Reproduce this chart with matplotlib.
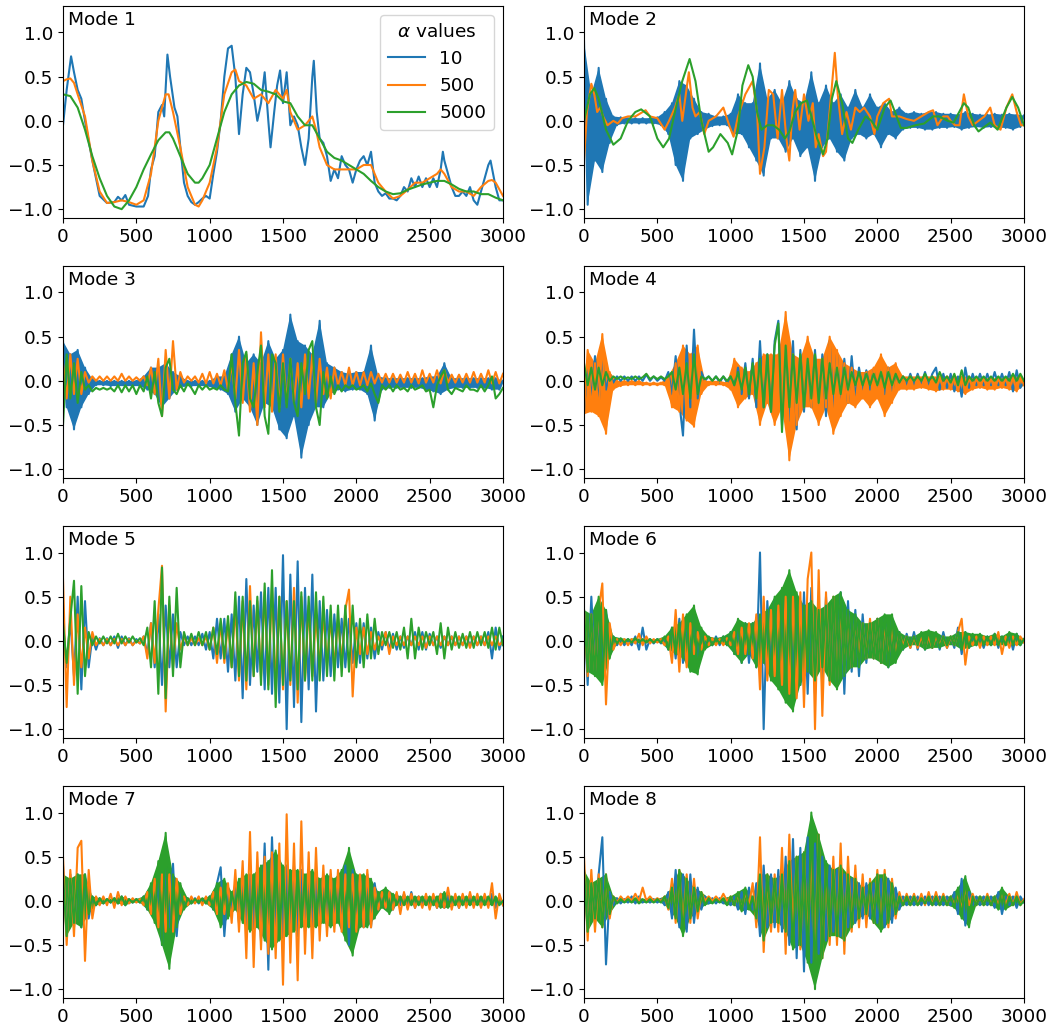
import numpy as np
import matplotlib
matplotlib.use("Agg")
import matplotlib.pyplot as plt

plt.rcParams["font.size"] = 13.3

ALPHAS = ["10", "500", "5000"]
COLORS = ["C0", "C1", "C2"]
XMAX = 3000
STEP = 25  # sample spacing of the dense peak lists below

# ---- Mode 1: (sample, value) pairs ----
M1_A10 = [(0, -0.05), (25, 0.35), (55, 0.73), (75, 0.55), (100, 0.35), (125, 0.25), (150, 0.0),
          (200, -0.45), (250, -0.85), (300, -0.93), (350, -0.92), (375, -0.86), (400, -0.9),
          (425, -0.84), (450, -0.95), (500, -0.97), (550, -0.97), (580, -0.85), (600, -0.55),
          (625, -0.4), (650, 0.1), (675, 0.18), (690, 0.05), (712, 0.75), (730, 0.5), (760, 0.15),
          (780, 0.05), (800, -0.3), (825, -0.7), (850, -0.85), (875, -0.92), (900, -0.95),
          (925, -0.92), (950, -0.88), (975, -0.85), (1000, -0.88), (1025, -0.6), (1050, -0.35),
          (1075, 0.0), (1100, 0.5), (1125, 0.82), (1150, 0.85), (1175, 0.5), (1200, -0.15),
          (1225, 0.3), (1250, 0.6), (1275, 0.55), (1300, 0.3), (1325, 0.0), (1350, 0.2),
          (1375, 0.55), (1400, 0.0), (1415, -0.3), (1440, 0.1), (1460, 0.4), (1480, 0.57),
          (1500, 0.2), (1525, 0.55), (1550, -0.05), (1575, 0.05), (1600, -0.05), (1625, -0.3),
          (1650, -0.5), (1675, -0.2), (1700, 0.5), (1710, 0.68), (1730, 0.1), (1750, -0.2),
          (1775, -0.25), (1800, -0.4), (1825, -0.68), (1850, -0.55), (1875, -0.65), (1900, -0.4),
          (1925, -0.5), (1950, -0.55), (1975, -0.7), (2000, -0.55), (2025, -0.45), (2050, -0.4),
          (2075, -0.5), (2100, -0.35), (2125, -0.7), (2150, -0.8), (2175, -0.85), (2200, -0.82),
          (2225, -0.88), (2250, -0.88), (2275, -0.9), (2300, -0.85), (2325, -0.75), (2350, -0.8),
          (2375, -0.65), (2400, -0.75), (2425, -0.63), (2450, -0.75), (2475, -0.65), (2500, -0.75),
          (2525, -0.65), (2550, -0.75), (2575, -0.55), (2590, -0.35), (2600, -0.45), (2625, -0.6),
          (2650, -0.75), (2675, -0.85), (2700, -0.85), (2725, -0.8), (2750, -0.85), (2775, -0.75),
          (2800, -0.9), (2825, -0.95), (2850, -0.8), (2875, -0.65), (2900, -0.5), (2915, -0.45),
          (2950, -0.75), (2975, -0.9), (3000, -0.9)]
M1_A500 = [(0, 0.45), (25, 0.47), (50, 0.48), (75, 0.43), (100, 0.3), (150, 0.05), (200, -0.45),
           (250, -0.8), (300, -0.93), (350, -0.92), (400, -0.9), (450, -0.92), (500, -0.95),
           (550, -0.9), (600, -0.6), (650, 0.0), (700, 0.3), (720, 0.3), (750, 0.1), (800, -0.3),
           (850, -0.75), (900, -0.95), (925, -0.97), (950, -0.9), (1000, -0.7), (1050, -0.3),
           (1100, 0.3), (1150, 0.55), (1175, 0.58), (1200, 0.45), (1250, 0.4), (1300, 0.25),
           (1350, 0.3), (1400, 0.2), (1450, 0.35), (1500, 0.25), (1525, 0.35), (1550, 0.1),
           (1600, -0.1), (1650, -0.05), (1700, 0.05), (1725, -0.1), (1750, -0.3), (1800, -0.5),
           (1850, -0.55), (1900, -0.55), (1950, -0.55), (2000, -0.55), (2050, -0.5), (2100, -0.5),
           (2150, -0.7), (2200, -0.8), (2250, -0.88), (2300, -0.85), (2350, -0.78), (2400, -0.7),
           (2450, -0.7), (2500, -0.65), (2550, -0.6), (2575, -0.55), (2600, -0.6), (2650, -0.75),
           (2700, -0.8), (2750, -0.8), (2800, -0.85), (2850, -0.75), (2900, -0.68), (2925, -0.67),
           (2950, -0.7), (3000, -0.85)]
M1_A5000 = [(0, 0.3), (50, 0.28), (100, 0.15), (150, -0.1), (200, -0.4), (250, -0.65), (300, -0.85),
            (350, -0.97), (400, -1.0), (450, -0.9), (500, -0.75), (550, -0.55), (600, -0.38),
            (650, -0.22), (700, -0.13), (725, -0.13), (750, -0.2), (800, -0.4), (850, -0.6),
            (900, -0.7), (925, -0.7), (950, -0.65), (1000, -0.5), (1050, -0.2), (1100, 0.1),
            (1150, 0.3), (1200, 0.4), (1250, 0.44), (1300, 0.42), (1350, 0.35), (1400, 0.33),
            (1450, 0.3), (1500, 0.22), (1550, 0.2), (1600, 0.05), (1650, -0.05), (1700, -0.05),
            (1750, -0.2), (1800, -0.35), (1850, -0.42), (1900, -0.45), (1950, -0.5), (2000, -0.55),
            (2050, -0.6), (2100, -0.68), (2150, -0.75), (2200, -0.8), (2250, -0.83), (2300, -0.82),
            (2350, -0.78), (2400, -0.75), (2450, -0.72), (2500, -0.7), (2550, -0.68), (2600, -0.68),
            (2650, -0.72), (2700, -0.77), (2750, -0.8), (2800, -0.8), (2850, -0.83), (2900, -0.83),
            (2950, -0.87), (3000, -0.9)]

# ---- Mode 2 ----
M2_A10 = [0.9, -0.95, 0.3, -0.45, 0.6, -0.58, 0.25, -0.25, 0.05, -0.05,
          0.04, -0.03, 0.03, -0.03, 0.03, -0.03, 0.03, -0.03, 0.03, -0.03,
          0.04, -0.05, 0.1, -0.15, 0.2, -0.5, 0.45, -0.68, 0.4, -0.2,
          0.25, -0.15, 0.1, -0.1, 0.08, -0.06, 0.05, -0.05, 0.05, -0.05,
          0.08, -0.15, 0.3, -0.15, 0.2, -0.3, 0.2, -0.45, 0.65, -0.62,
          0.25, -0.2, 0.35, -0.2, 0.2, -0.35, 0.45, -0.2, 0.25, -0.4,
          0.2, -0.3, 0.55, -0.68, 0.2, -0.3, 0.4, -0.2, 0.2, -0.35,
          0.3, -0.45, 0.15, -0.2, 0.35, -0.15, 0.15, -0.2, 0.3, -0.15,
          0.15, -0.3, 0.2, -0.15, 0.1, -0.2, 0.15, -0.1, 0.08, -0.08,
          0.1, -0.08, 0.08, -0.1, 0.1, -0.1, 0.1, -0.08, 0.08, -0.08,
          0.08, -0.07, 0.07, -0.1, 0.1, -0.08, 0.08, -0.07, 0.07, -0.08,
          0.07, -0.07, 0.08, -0.08, 0.07, -0.08, 0.08, -0.1, 0.07, -0.07,
          0.06]
M2_A500 = [(0, -0.45), (20, 0.1), (50, 0.42), (70, 0.3), (90, 0.1), (110, 0.15), (130, 0.05),
           (160, -0.05), (200, 0.0), (230, -0.03), (260, 0.03), (300, 0.05), (350, 0.05),
           (400, 0.1), (420, 0.12), (450, 0.05), (500, 0.03), (550, -0.1), (580, 0.0), (620, 0.15),
           (650, 0.3), (670, 0.0), (690, 0.25), (715, 0.55), (740, 0.15), (760, 0.05), (790, 0.1),
           (820, -0.15), (850, 0.0), (900, 0.05), (950, 0.15), (990, -0.05), (1020, -0.18),
           (1050, 0.05), (1100, 0.3), (1150, 0.45), (1180, 0.1), (1200, -0.6), (1230, -0.3),
           (1260, 0.35), (1290, 0.3), (1320, -0.2), (1350, 0.35), (1380, -0.2), (1400, -0.45),
           (1420, 0.1), (1440, 0.35), (1470, -0.1), (1500, 0.3), (1530, 0.0), (1560, 0.2),
           (1580, -0.3), (1600, -0.15), (1630, -0.4), (1650, -0.35), (1680, 0.2), (1710, 0.77),
           (1730, 0.3), (1760, -0.15), (1790, 0.1), (1820, -0.1), (1850, 0.15), (1880, 0.1),
           (1910, 0.15), (1950, 0.05), (1980, -0.15), (2000, 0.05), (2040, 0.2), (2080, 0.25),
           (2100, 0.05), (2150, 0.05), (2200, 0.02), (2250, 0.0), (2300, 0.05), (2350, 0.1),
           (2380, 0.12), (2410, -0.05), (2450, 0.05), (2480, 0.05), (2500, 0.0), (2530, -0.05),
           (2560, -0.05), (2590, 0.3), (2620, 0.05), (2650, -0.05), (2690, 0.0), (2730, 0.05),
           (2770, 0.15), (2800, -0.05), (2840, -0.1), (2880, 0.15), (2920, 0.3), (2950, 0.1),
           (2980, -0.05), (3000, -0.05)]
M2_A5000 = [(0, 0.0), (40, 0.3), (70, 0.37), (100, 0.25), (150, -0.1), (200, -0.27), (250, -0.2),
            (300, 0.0), (350, 0.1), (390, 0.13), (450, 0.05), (500, -0.2), (540, -0.3), (580, -0.2),
            (620, 0.1), (670, 0.45), (720, 0.7), (760, 0.45), (800, 0.0), (850, -0.35), (880, -0.3),
            (930, -0.15), (980, -0.25), (1010, -0.38), (1050, -0.1), (1080, 0.4), (1120, 0.63),
            (1150, 0.5), (1180, 0.1), (1210, -0.1), (1250, -0.05), (1290, -0.05), (1330, -0.1),
            (1370, -0.2), (1400, -0.12), (1440, 0.1), (1480, 0.2), (1520, 0.23), (1550, 0.05),
            (1590, -0.2), (1630, -0.38), (1660, -0.2), (1690, 0.25), (1720, 0.45), (1760, 0.2),
            (1800, -0.2), (1830, -0.25), (1870, -0.1), (1920, 0.05), (1960, 0.0), (2000, -0.1),
            (2050, 0.15), (2090, 0.23), (2120, 0.1), (2160, -0.08), (2200, -0.08), (2260, -0.05),
            (2320, -0.03), (2380, 0.05), (2420, 0.05), (2480, 0.0), (2520, -0.02), (2590, 0.2),
            (2620, 0.15), (2660, -0.05), (2690, -0.12), (2720, -0.08), (2770, -0.02), (2820, -0.1),
            (2880, 0.15), (2920, 0.27), (2960, 0.15), (3000, -0.05)]

# ---- Mode 3 ----
M3_A10 = [0.45, -0.3, 0.3, -0.55, 0.35, -0.3, 0.15, -0.15, 0.02, -0.05,
          0.0, -0.05, 0.0, -0.06, 0.0, -0.06, 0.0, -0.06, 0.0, -0.06,
          0.0, -0.06, 0.05, -0.1, 0.15, -0.15, 0.15, -0.3, 0.2, -0.2,
          0.1, -0.1, 0.05, -0.06, 0.0, -0.06, 0.0, -0.06, 0.0, -0.06,
          0.0, -0.08, 0.05, -0.1, 0.05, -0.15, 0.3, -0.35, 0.5, -0.2,
          0.2, -0.3, 0.3, -0.5, 0.2, -0.25, 0.45, -0.3, 0.25, -0.55,
          0.35, -0.65, 0.75, -0.4, 0.45, -0.87, 0.4, -0.5, 0.3, -0.3,
          0.68, -0.3, 0.2, -0.15, 0.15, -0.1, 0.1, -0.12, 0.08, -0.1,
          0.1, -0.1, 0.1, -0.15, 0.4, -0.45, 0.05, -0.1, 0.03, -0.08,
          0.03, -0.08, 0.03, -0.08, 0.03, -0.08, 0.03, -0.08, 0.03, -0.1,
          0.05, -0.12, 0.05, -0.15, 0.2, -0.1, 0.03, -0.08, 0.03, -0.08,
          0.03, -0.08, 0.03, -0.08, 0.03, -0.08, 0.03, -0.1, 0.03, -0.1,
          0.0]
M3_A500 = [0.2, -0.2, 0.3, -0.15, 0.25, -0.15, 0.1, -0.02, 0.05, 0.0,
           0.05, 0.0, 0.05, 0.0, 0.05, 0.0, 0.08, 0.0, 0.05, 0.0,
           0.04, 0.0, 0.05, -0.05, 0.15, -0.15, 0.25, -0.4, 0.35, -0.2,
           0.45, -0.1, 0.1, -0.02, 0.05, 0.0, 0.05, -0.02, 0.08, -0.03,
           0.1, -0.03, 0.08, -0.05, 0.12, -0.1, 0.2, -0.2, 0.35, -0.25,
           0.3, -0.35, 0.2, -0.5, 0.55, -0.3, 0.3, -0.35, 0.3, -0.3,
           0.3, -0.25, 0.25, -0.25, 0.2, -0.3, 0.3, -0.2, 0.3, -0.25,
           0.25, -0.15, 0.15, -0.2, 0.15, -0.05, 0.1, -0.05, 0.15, -0.05,
           0.1, -0.05, 0.1, -0.05, 0.1, -0.03, 0.08, -0.02, 0.08, -0.02,
           0.08, -0.02, 0.07, -0.02, 0.1, -0.02, 0.08, -0.03, 0.12, -0.02,
           0.08, -0.02, 0.12, -0.03, 0.12, -0.02, 0.07, -0.02, 0.07, -0.02,
           0.08, -0.02, 0.1, -0.02, 0.08, -0.02, 0.12, -0.03, 0.1, -0.03,
           0.08]
M3_A5000 = [-0.5, 0.3, -0.2, 0.2, -0.25, 0.1, -0.1, -0.05, -0.12, -0.08,
            -0.1, -0.08, -0.1, -0.08, -0.12, -0.05, -0.13, -0.05, -0.12, -0.05,
            -0.15, -0.05, -0.12, 0.05, -0.2, 0.1, -0.25, -0.4, 0.15, 0.25,
            -0.1, -0.15, -0.05, -0.12, -0.03, -0.08, -0.15, -0.05, -0.1, -0.05,
            -0.1, -0.08, -0.1, -0.05, -0.1, -0.12, 0.3, -0.25, -0.62, 0.2,
            0.33, -0.2, -0.3, 0.1, 0.4, -0.4, -0.6, 0.3, 0.2, -0.35,
            0.2, -0.3, 0.25, -0.25, -0.4, 0.2, -0.15, 0.35, 0.45, -0.3,
            -0.5, 0.1, -0.2, 0.05, -0.15, -0.05, -0.12, -0.05, -0.08, -0.05,
            -0.1, -0.08, -0.05, -0.12, -0.03, -0.15, -0.25, -0.05, -0.1, -0.05,
            -0.12, -0.05, -0.1, -0.08, -0.12, -0.05, -0.1, -0.08, -0.05, -0.12,
            -0.1, -0.3, -0.05, 0.05, 0.12, -0.1, -0.15, -0.08, -0.1, -0.12,
            -0.05, -0.1, -0.1, -0.12, -0.05, -0.12, -0.05, 0.05, -0.2, -0.15,
            -0.08]

# ---- Mode 4 ----
M4_A10 = [-0.35, 0.2, -0.2, 0.28, -0.25, 0.25, -0.1, 0.08, -0.02, 0.05,
          0.0, 0.05, 0.0, 0.05, 0.0, 0.05, 0.0, 0.07, 0.0, 0.05,
          0.0, 0.04, 0.0, 0.1, -0.15, 0.28, -0.25, -0.62, 0.4, -0.3,
          0.58, -0.2, 0.1, 0.0, 0.05, 0.0, 0.05, -0.02, 0.05, -0.02,
          0.05, -0.05, 0.15, -0.15, 0.2, -0.2, 0.25, -0.3, 0.45, -0.3,
          0.3, -0.35, 0.45, 0.68, -0.5, 0.5, -0.45, 0.45, -0.55, 0.35,
          -0.35, 0.3, -0.3, 0.35, -0.3, 0.3, -0.4, 0.45, -0.3, 0.3,
          -0.25, 0.25, -0.25, 0.28, -0.2, 0.15, -0.1, 0.12, -0.1, 0.12,
          -0.1, 0.15, -0.15, 0.15, -0.15, 0.1, -0.05, 0.05, -0.05, 0.08,
          -0.05, 0.08, -0.05, 0.1, -0.05, 0.08, 0.15, -0.1, 0.08, -0.08,
          0.08, -0.12, 0.05, -0.18, 0.15, -0.08, 0.08, -0.05, 0.08, -0.05,
          0.08, -0.05, 0.1, -0.05, 0.08, -0.05, 0.1, -0.12, 0.12, -0.08,
          0.0]
M4_A500 = [-0.38, 0.35, -0.35, 0.2, -0.4, 0.53, -0.6, 0.1, -0.1, 0.0,
           -0.06, 0.0, -0.05, 0.0, -0.05, 0.0, -0.05, -0.02, -0.05, -0.02,
           -0.05, -0.02, -0.05, 0.05, -0.3, 0.2, -0.35, 0.4, -0.45, 0.3,
           -0.52, 0.4, -0.15, 0.0, -0.05, 0.0, -0.05, 0.0, -0.05, -0.02,
           -0.1, 0.25, -0.3, 0.15, -0.2, 0.1, -0.15, 0.2, -0.5, 0.3,
           -0.25, 0.3, -0.5, 0.3, -0.3, 0.78, -0.9, 0.3, -0.5, 0.25,
           -0.3, 0.5, -0.3, 0.25, -0.5, 0.25, -0.3, 0.5, -0.6, 0.35,
           -0.4, 0.2, -0.25, 0.15, -0.3, 0.1, -0.2, 0.1, -0.3, 0.15,
           -0.2, 0.3, -0.4, 0.15, -0.25, 0.2, -0.1, 0.05, -0.1, 0.05,
           -0.1, 0.05, -0.08, 0.05, -0.1, 0.05, -0.12, 0.05, -0.1, 0.05,
           -0.1, 0.05, -0.12, 0.05, -0.15, 0.05, -0.1, 0.03, -0.08, 0.03,
           -0.1, 0.03, -0.1, 0.03, -0.08, 0.03, -0.1, 0.05, -0.12, 0.05,
           -0.05]
M4_A5000 = [0.2, -0.05, 0.15, -0.1, 0.15, -0.05, 0.1, 0.0, 0.05, 0.02,
            0.05, 0.02, 0.04, 0.02, 0.05, 0.02, 0.04, 0.08, 0.02, 0.05,
            0.02, 0.05, 0.02, 0.05, 0.1, -0.1, 0.15, -0.15, 0.2, -0.2,
            0.3, -0.15, 0.05, 0.02, 0.05, 0.0, 0.05, 0.0, 0.05, 0.0,
            0.05, -0.05, 0.1, -0.1, 0.15, -0.15, 0.2, -0.2, 0.25, -0.3,
            0.3, -0.35, 0.4, 0.65, -0.58, 0.4, -0.3, 0.3, -0.25, 0.3,
            -0.3, 0.25, -0.2, 0.3, -0.25, 0.25, -0.2, 0.2, -0.15, 0.15,
            -0.15, 0.15, -0.1, 0.1, -0.05, 0.1, -0.05, 0.08, -0.05, 0.08,
            -0.05, 0.1, -0.08, 0.1, -0.05, 0.08, -0.02, 0.05, 0.0, 0.05,
            0.0, 0.05, 0.0, 0.08, 0.0, 0.05, -0.02, 0.1, 0.0, 0.05,
            -0.02, 0.08, -0.05, 0.12, -0.05, 0.05, 0.0, 0.05, 0.0, 0.05,
            0.0, 0.05, 0.0, 0.05, 0.0, 0.05, 0.0, 0.08, 0.0, 0.08,
            0.0]

# ---- Mode 5 ----
M5_A10 = [0.2, -0.3, 0.25, -0.4, 0.5, -0.55, 0.45, -0.3, 0.05, -0.1,
          0.03, -0.05, 0.03, -0.05, 0.05, -0.08, 0.05, -0.05, 0.03, -0.05,
          0.02, -0.03, 0.05, -0.15, 0.2, -0.3, 0.3, -0.5, 0.4, -0.3,
          0.3, -0.3, 0.1, -0.05, 0.05, -0.05, 0.05, -0.05, 0.08, -0.1,
          0.1, -0.2, 0.25, -0.2, 0.25, -0.35, 0.3, -0.45, 0.5, -0.65,
          0.7, -0.5, 0.4, -0.35, 0.55, -0.55, 0.6, -0.6, 0.6, -0.7,
          0.97, -1.0, 0.75, -0.75, 0.9, -0.92, 0.6, -0.55, 0.75, -0.8,
          0.45, -0.45, 0.35, -0.4, 0.3, -0.3, 0.25, -0.3, 0.25, -0.25,
          0.2, -0.25, 0.2, -0.2, 0.15, -0.2, 0.1, -0.1, 0.1, -0.1,
          0.08, -0.1, 0.05, -0.08, 0.05, -0.05, 0.1, -0.1, 0.1, -0.1,
          0.08, -0.05, 0.05, -0.08, 0.05, -0.05, 0.05, -0.05, 0.05, -0.05,
          0.05, -0.05, 0.05, -0.05, 0.05, -0.05, 0.1, -0.2, 0.15, -0.1,
          0.05]
M5_A500 = [0.7, -0.75, 0.5, -0.5, 0.3, -0.3, 0.15, -0.2, 0.1, -0.05,
           0.02, -0.05, 0.02, -0.05, 0.02, -0.05, 0.02, -0.05, 0.02, -0.05,
           0.0, -0.03, 0.05, -0.2, 0.2, -0.25, 0.35, 0.85, -0.8, 0.4,
           -0.3, 0.2, -0.1, 0.05, -0.05, 0.03, -0.05, 0.03, -0.05, 0.05,
           -0.1, 0.15, -0.25, 0.2, -0.25, 0.2, -0.3, 0.4, -0.45, 0.45,
           -0.55, 0.62, -0.4, 0.45, -0.4, 0.55, -0.5, 0.6, -0.55, 0.5,
           -0.55, 0.45, -0.5, 0.6, -0.7, 0.5, -0.45, 0.4, -0.4, 0.3,
           -0.3, 0.3, -0.25, 0.25, -0.3, 0.25, -0.25, 0.35, 0.58, -0.63,
           0.15, -0.15, 0.15, -0.15, 0.1, -0.1, 0.05, -0.05, 0.1, -0.15,
           0.05, -0.05, 0.05, -0.05, 0.05, -0.05, 0.05, -0.05, 0.05, -0.08,
           0.05, -0.05, 0.05, -0.05, 0.05, -0.05, 0.05, -0.05, 0.05, -0.05,
           0.05, -0.08, 0.05, -0.05, 0.05, -0.05, 0.05, -0.05, 0.05, -0.05,
           0.0]
M5_A5000 = [0.2, -0.25, 0.25, 0.68, -0.6, 0.62, -0.4, 0.1, -0.05, 0.05,
            -0.03, 0.05, -0.03, 0.05, -0.03, 0.08, -0.03, 0.05, -0.02, 0.05,
            -0.02, 0.03, -0.05, 0.15, -0.3, 0.45, -0.6, 0.83, -0.65, 0.5,
            -0.4, 0.6, -0.3, 0.1, -0.05, 0.08, -0.05, 0.1, -0.05, 0.1,
            -0.1, 0.15, -0.15, 0.25, -0.2, 0.28, -0.3, 0.55, -0.4, 0.5,
            -0.45, 0.45, -0.4, 0.5, -0.5, 0.65, -0.55, 0.8, -0.75, 0.5,
            -0.5, 0.45, -0.45, 0.45, -0.55, 0.55, -0.45, 0.5, -0.45, 0.55,
            -0.45, 0.5, -0.4, 0.4, -0.45, 0.4, -0.4, 0.4, -0.35, 0.4,
            -0.3, 0.25, -0.3, 0.3, -0.2, 0.25, -0.15, 0.1, -0.05, 0.1,
            -0.08, 0.1, -0.1, 0.15, -0.2, 0.25, -0.2, 0.15, -0.1, 0.1,
            -0.05, 0.1, -0.15, 0.2, -0.2, 0.15, -0.1, 0.1, -0.08, 0.08,
            -0.08, 0.1, -0.08, 0.1, -0.05, 0.1, -0.08, 0.15, -0.1, 0.15,
            -0.05]

# ---- Mode 6 ----
M6_A10 = [0.35, -0.5, 0.5, -0.35, 0.3, -0.35, 0.35, -0.15, 0.05, -0.05,
          0.02, -0.05, 0.02, -0.05, 0.05, -0.1, 0.15, -0.1, 0.02, -0.03,
          0.02, -0.03, 0.02, -0.1, 0.15, -0.2, 0.25, -0.25, 0.2, -0.2,
          0.3, -0.25, 0.1, -0.05, 0.03, -0.05, 0.05, -0.05, 0.05, -0.05,
          0.1, -0.15, 0.15, -0.25, 0.2, -0.25, 0.2, -0.3, 1.0, -1.0,
          0.45, -0.35, 0.45, -0.4, 0.5, -0.55, 0.6, -0.5, 0.45, -0.5,
          0.55, -0.6, 0.6, -0.6, 0.5, -0.55, 0.5, -0.45, 0.45, -0.5,
          0.55, -0.6, 0.45, -0.35, 0.35, -0.4, 0.3, -0.25, 0.2, -0.2,
          0.25, -0.25, 0.25, -0.3, 0.25, -0.2, 0.1, -0.1, 0.08, -0.08,
          0.1, -0.1, 0.08, -0.1, 0.08, -0.08, 0.08, -0.1, 0.1, -0.08,
          0.05, -0.08, 0.15, -0.15, 0.1, -0.08, 0.05, -0.05, 0.05, -0.08,
          0.05, -0.05, 0.08, -0.08, 0.05, -0.05, 0.08, -0.1, 0.08, -0.05,
          0.02]
M6_A500 = [0.35, -0.4, 0.3, -0.35, 0.35, 0.65, -0.72, 0.2, -0.1, 0.02,
           -0.05, 0.02, -0.05, 0.02, -0.03, 0.08, -0.05, 0.05, -0.03, 0.02,
           -0.02, 0.02, -0.05, 0.05, -0.25, 0.35, -0.35, 0.3, -0.3, 0.2,
           -0.15, 0.1, -0.1, 0.05, -0.05, 0.03, -0.05, 0.02, -0.05, 0.03,
           -0.05, 0.1, -0.15, 0.15, -0.15, 0.2, -0.2, 0.3, -0.55, 0.5,
           -0.45, 0.35, -0.4, 0.4, -0.5, 0.5, -0.6, 0.5, -0.65, 0.55,
           -0.75, 0.7, 1.0, -1.0, 0.8, -0.85, 0.55, -0.5, 0.5, -0.45,
           0.4, -0.35, 0.3, -0.3, 0.25, -0.2, 0.2, -0.2, 0.25, -0.2,
           0.25, -0.25, 0.2, -0.2, 0.15, -0.15, 0.08, -0.05, 0.05, -0.08,
           0.05, -0.08, 0.05, -0.08, 0.05, -0.08, 0.05, -0.05, 0.05, -0.08,
           0.05, -0.05, 0.1, 0.25, -0.27, 0.05, -0.05, 0.05, -0.08, 0.05,
           -0.05, 0.05, -0.05, 0.1, -0.15, 0.05, -0.08, 0.05, -0.05, 0.05,
           -0.02]
M6_A5000 = [0.35, -0.35, 0.3, -0.4, 0.5, -0.5, 0.35, -0.2, 0.05, -0.03,
            0.03, -0.02, 0.02, -0.02, 0.03, -0.02, 0.02, -0.02, 0.02, -0.02,
            0.02, -0.02, 0.05, -0.1, 0.15, -0.15, 0.2, -0.2, 0.3, -0.35,
            0.4, -0.38, 0.15, -0.1, 0.05, -0.05, 0.03, -0.03, 0.05, -0.05,
            0.1, -0.15, 0.25, -0.25, 0.2, -0.15, 0.2, -0.3, 0.3, -0.25,
            0.35, -0.45, 0.5, -0.55, 0.6, -0.7, 0.8, -0.8, 0.55, -0.5,
            0.4, -0.35, 0.45, -0.45, 0.35, -0.3, 0.4, -0.45, 0.5, -0.55,
            0.55, -0.4, 0.35, -0.3, 0.3, -0.3, 0.2, -0.2, 0.2, -0.2,
            0.25, -0.25, 0.3, -0.3, 0.3, -0.25, 0.1, -0.1, 0.05, -0.05,
            0.05, -0.05, 0.1, -0.1, 0.12, -0.08, 0.1, -0.08, 0.05, -0.05,
            0.05, -0.05, 0.1, -0.1, 0.1, -0.08, 0.08, -0.05, 0.08, -0.05,
            0.05, -0.05, 0.08, -0.05, 0.05, -0.05, 0.1, -0.05, 0.08, -0.05,
            0.02]

# ---- Mode 7 ----
M7_A10 = [0.4, -0.4, 0.3, -0.3, 0.3, -0.3, 0.3, -0.2, 0.05, -0.05,
          0.03, -0.03, 0.02, -0.02, 0.03, -0.03, 0.05, -0.05, 0.02, -0.02,
          0.02, -0.02, 0.05, -0.1, 0.15, -0.2, 0.25, -0.5, 0.45, -0.3,
          0.42, -0.4, 0.15, -0.08, 0.03, -0.03, 0.03, -0.03, 0.02, -0.03,
          0.05, -0.1, 0.2, 0.38, -0.4, 0.15, -0.1, 0.2, -0.25, 0.3,
          -0.3, 0.3, -0.3, 0.35, -0.45, 0.65, -0.78, 0.72, -0.45, 0.45,
          -0.4, 0.4, -0.45, 0.4, -0.4, 0.35, -0.35, 0.3, -0.3, 0.25,
          -0.25, 0.3, -0.3, 0.3, -0.25, 0.25, -0.3, 0.4, -0.5, 0.35,
          -0.3, 0.25, -0.3, 0.3, -0.3, 0.2, -0.1, 0.08, -0.08, 0.1,
          -0.1, 0.08, -0.05, 0.08, -0.08, 0.1, -0.08, 0.05, -0.05, 0.05,
          -0.08, 0.05, -0.08, 0.08, -0.08, 0.05, -0.05, 0.05, -0.08, 0.05,
          -0.05, 0.05, -0.05, 0.05, -0.05, 0.05, -0.05, 0.08, -0.08, 0.05,
          -0.05]
M7_A500 = [0.5, -0.5, 0.35, -0.4, 0.6, 0.68, -0.68, 0.35, -0.2, 0.05,
           -0.05, 0.05, -0.05, 0.08, -0.08, 0.1, -0.05, 0.05, -0.03, 0.03,
           -0.02, 0.02, -0.05, 0.1, -0.15, 0.25, -0.3, 0.3, -0.35, 0.3,
           -0.35, 0.25, -0.15, 0.05, -0.05, 0.05, -0.03, 0.05, -0.05, 0.05,
           -0.05, 0.1, -0.15, 0.15, -0.15, 0.2, -0.25, 0.35, -0.35, 0.45,
           -0.65, 0.78, -0.75, 0.55, -0.55, 0.5, -0.6, 0.55, -0.65, 0.65,
           -0.95, 0.98, -0.7, 0.65, -0.9, 0.9, -0.6, 0.55, -0.65, 0.6,
           -0.45, 0.4, -0.4, 0.35, -0.35, 0.35, -0.35, 0.3, -0.3, 0.3,
           -0.35, 0.3, -0.3, 0.35, -0.3, 0.15, -0.1, 0.1, -0.08, 0.1,
           -0.1, 0.1, -0.15, 0.1, -0.1, 0.08, -0.08, 0.05, -0.08, 0.08,
           -0.1, 0.08, -0.08, 0.08, -0.08, 0.15, -0.1, 0.08, -0.08, 0.08,
           -0.08, 0.1, -0.08, 0.08, -0.08, 0.08, -0.08, 0.2, -0.2, 0.08,
           -0.05]
M7_A5000 = [0.3, -0.4, 0.25, -0.25, 0.3, -0.3, 0.3, -0.15, 0.05, -0.05,
            0.03, -0.03, 0.02, -0.02, 0.03, -0.03, 0.05, -0.05, 0.02, -0.02,
            0.02, -0.02, 0.05, -0.1, 0.2, -0.25, 0.45, -0.5, 0.77, -0.77,
            0.3, -0.3, 0.2, -0.1, 0.03, -0.03, 0.02, -0.02, 0.03, -0.03,
            0.05, -0.1, 0.2, -0.3, 0.25, -0.2, 0.1, -0.1, 0.25, -0.25,
            0.3, -0.35, 0.3, -0.3, 0.4, -0.45, 0.45, -0.55, 0.57, -0.45,
            0.4, -0.4, 0.35, -0.35, 0.35, -0.3, 0.3, -0.3, 0.35, -0.3,
            0.25, -0.25, 0.3, -0.3, 0.25, -0.25, 0.35, -0.45, 0.6, -0.62,
            0.3, -0.3, 0.3, -0.3, 0.25, -0.2, 0.1, -0.08, 0.15, -0.15,
            0.08, -0.05, 0.05, -0.05, 0.05, -0.05, 0.05, -0.05, 0.05, -0.05,
            0.05, -0.05, 0.05, -0.08, 0.1, -0.08, 0.05, -0.05, 0.05, -0.05,
            0.05, -0.05, 0.05, -0.05, 0.05, -0.05, 0.05, -0.05, 0.05, -0.05,
            0.0]

# ---- Mode 8 ----
M8_A10 = [0.35, -0.35, 0.25, -0.25, 0.3, 0.72, -0.72, 0.1, -0.05, 0.03,
          -0.03, 0.02, -0.02, 0.05, -0.03, 0.05, -0.02, 0.02, -0.02, 0.02,
          -0.02, 0.02, -0.05, 0.1, -0.2, 0.35, -0.3, 0.3, -0.35, 0.3,
          -0.25, 0.15, -0.1, 0.05, -0.03, 0.03, -0.03, 0.03, -0.03, 0.02,
          -0.05, 0.05, -0.1, 0.1, -0.15, 0.15, -0.1, 0.2, -0.4, 0.4,
          -0.3, 0.3, -0.3, 0.35, -0.35, 0.5, -0.5, 0.7, -0.65, 0.6,
          -0.8, 0.72, -0.7, 0.65, -0.6, 0.5, -0.45, 0.4, -0.35, 0.35,
          -0.4, 0.3, -0.3, 0.25, -0.25, 0.2, -0.2, 0.2, -0.2, 0.2,
          -0.25, 0.25, -0.3, 0.25, -0.25, 0.15, -0.1, 0.05, -0.05, 0.05,
          -0.05, 0.05, -0.05, 0.05, -0.05, 0.05, -0.05, 0.05, -0.05, 0.05,
          -0.05, 0.1, -0.15, 0.25, -0.28, 0.1, -0.05, 0.05, -0.05, 0.05,
          -0.05, 0.05, -0.08, 0.1, -0.15, 0.05, -0.05, 0.05, -0.08, 0.05,
          -0.02]
M8_A500 = [0.5, -0.45, 0.35, -0.35, 0.3, -0.3, 0.3, -0.2, 0.05, -0.02,
           0.05, 0.0, 0.05, 0.0, 0.08, 0.0, 0.15, 0.0, 0.05, 0.0,
           0.03, 0.0, 0.05, -0.1, 0.25, -0.25, 0.35, -0.3, 0.3, -0.25,
           0.25, -0.2, 0.1, 0.0, 0.05, 0.0, 0.05, 0.0, 0.08, 0.0,
           0.05, -0.05, 0.08, -0.1, 0.1, -0.05, 0.2, -0.3, 0.72, -0.58,
           0.3, -0.35, 0.3, -0.35, 0.6, -0.6, 0.75, -0.4, 0.5, -0.55,
           0.55, -0.5, 0.6, -0.7, 0.75, -0.65, 0.4, -0.5, 0.5, -0.5,
           0.65, -0.6, 0.5, -0.35, 0.4, -0.3, 0.3, -0.3, 0.25, -0.25,
           0.35, -0.3, 0.35, -0.3, 0.25, -0.2, 0.1, -0.05, 0.08, -0.05,
           0.08, -0.05, 0.08, -0.05, 0.1, -0.05, 0.1, -0.05, 0.08, -0.05,
           0.05, -0.05, 0.08, -0.1, 0.15, -0.05, 0.08, -0.05, 0.05, -0.05,
           0.08, -0.05, 0.05, -0.05, 0.1, -0.05, 0.08, -0.05, 0.1, -0.05,
           0.02]
M8_A5000 = [0.35, -0.35, 0.2, -0.2, 0.25, -0.3, 0.3, -0.15, 0.05, -0.03,
            0.02, -0.02, 0.02, -0.02, 0.03, -0.03, 0.02, -0.02, 0.02, -0.02,
            0.02, -0.02, 0.05, -0.08, 0.15, -0.2, 0.35, -0.4, 0.25, -0.2,
            0.15, -0.12, 0.1, -0.05, 0.03, -0.03, 0.02, -0.02, 0.03, -0.05,
            0.05, -0.05, 0.1, -0.12, 0.15, -0.1, 0.05, -0.2, 0.3, -0.45,
            0.3, -0.25, 0.25, -0.25, 0.3, -0.35, 0.45, -0.55, 0.5, -0.5,
            0.55, -0.7, 1.0, -1.0, 0.75, -0.65, 0.45, -0.4, 0.35, -0.4,
            0.4, -0.45, 0.3, -0.3, 0.25, -0.2, 0.15, -0.15, 0.2, -0.25,
            0.3, -0.35, 0.3, -0.25, 0.2, -0.15, 0.05, -0.05, 0.05, -0.05,
            0.05, -0.05, 0.03, -0.03, 0.05, -0.05, 0.05, -0.05, 0.05, -0.05,
            0.05, -0.08, 0.15, -0.2, 0.28, -0.3, 0.05, -0.05, 0.05, -0.05,
            0.05, -0.05, 0.05, -0.1, 0.15, -0.1, 0.05, -0.05, 0.05, -0.05,
            0.0]

MODES = [
    (M1_A10, M1_A500, M1_A5000),
    (M2_A10, M2_A500, M2_A5000),
    (M3_A10, M3_A500, M3_A5000),
    (M4_A10, M4_A500, M4_A5000),
    (M5_A10, M5_A500, M5_A5000),
    (M6_A10, M6_A500, M6_A5000),
    (M7_A10, M7_A500, M7_A5000),
    (M8_A10, M8_A500, M8_A5000),
]

# Series whose fast oscillation renders as a solid band (mode index -> series indices)
BANDED = {1: (0,), 2: (0,), 3: (1,), 5: (2,), 6: (2,), 7: (2,)}


def xy(series):
    """Return sample positions and values for either storage format."""
    if isinstance(series[0], tuple):
        xs, ys = zip(*series)
        return np.array(xs), np.array(ys)
    ys = np.array(series)
    return np.arange(len(ys)) * STEP, ys


W, H = 1052, 1032
fig = plt.figure(figsize=(W / 100, H / 100), dpi=100)

col_left = [63, 584]
row_top = [6, 266, 526, 786]
ax_w, ax_h = 440, 212

for k, mode in enumerate(MODES):
    r, c = divmod(k, 2)
    left = col_left[c] / W
    bottom = 1 - (row_top[r] + ax_h) / H
    ax = fig.add_axes([left, bottom, ax_w / W, ax_h / H])
    for j, (series, color, label) in enumerate(zip(mode, COLORS, ALPHAS)):
        xs, ys = xy(series)
        if j in BANDED.get(k, ()):
            # fill between the alternating crests and troughs of the oscillation
            px = np.concatenate([xs[0::2], xs[1::2][::-1]])
            py = np.concatenate([ys[0::2], ys[1::2][::-1]])
            ax.fill(px, py, color=color, lw=0)
        ax.plot(xs, ys, color=color, lw=1.5, label=label)
    ax.set_xlim(0, XMAX)
    ax.set_ylim(-1.1, 1.3)
    ax.set_xticks(np.arange(0, XMAX + 1, 500))
    ax.set_yticks([-1.0, -0.5, 0.0, 0.5, 1.0])
    ax.text(0.012, 0.975, f"Mode {k + 1}", transform=ax.transAxes,
            ha="left", va="top")
    if k == 0:
        ax.legend(title=r"$\alpha$ values", loc="upper right")

fig.savefig("out.png", dpi=100)
